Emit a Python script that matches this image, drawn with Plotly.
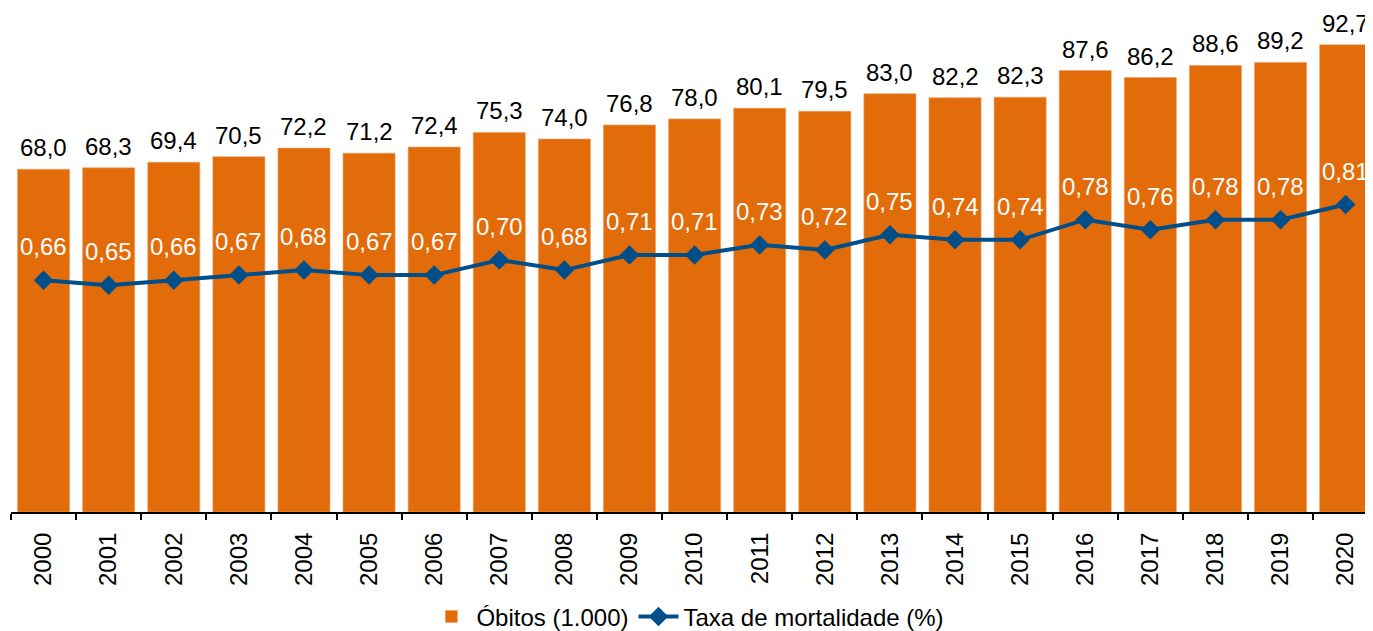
import plotly.graph_objects as go

years = [str(y) for y in range(2000, 2021)]
obitos = [68.0, 68.3, 69.4, 70.5, 72.2, 71.2, 72.4, 75.3, 74.0, 76.8, 78.0,
          80.1, 79.5, 83.0, 82.2, 82.3, 87.6, 86.2, 88.6, 89.2, 92.7]
taxa = [0.66, 0.65, 0.66, 0.67, 0.68, 0.67, 0.67, 0.70, 0.68, 0.71, 0.71,
        0.73, 0.72, 0.75, 0.74, 0.74, 0.78, 0.76, 0.78, 0.78, 0.81]

ORANGE = "#E36C0A"
BLUE = "#004F8A"
FONT = "Arial, 'Liberation Sans', sans-serif"
FS = 24

def br(v, d):
    return f"{v:.{d}f}".replace(".", ",")

fig = go.Figure()
fig.add_trace(go.Bar(
    x=years, y=obitos, name="Óbitos (1.000)",
    marker=dict(color=ORANGE, line=dict(color="#F0A060", width=0.6)),
    width=0.8,
))
fig.add_trace(go.Scatter(
    x=years, y=taxa, name="Taxa de mortalidade (%)", yaxis="y2",
    mode="lines+markers",
    line=dict(color=BLUE, width=4),
    marker=dict(symbol="diamond", size=15, color=BLUE),
    cliponaxis=False,
))

annotations = []
for i, v in enumerate(obitos):
    annotations.append(dict(x=i, y=v, xref="x", yref="y", text=br(v, 1),
                            showarrow=False, yanchor="bottom", yshift=6,
                            font=dict(size=FS, color="black", family=FONT)))
for i, v in enumerate(taxa):
    annotations.append(dict(x=i, y=v, xref="x", yref="y2", text=br(v, 2),
                            showarrow=False, yanchor="bottom", yshift=18,
                            font=dict(size=FS, color="white", family=FONT)))

# page has an 8px body margin; figure sized so the whole thing fits the window
fig.update_layout(
    width=1365, height=623,
    margin=dict(l=3, r=0, t=0, b=119, autoexpand=False),
    paper_bgcolor="white", plot_bgcolor="white",
    font=dict(family=FONT, size=FS, color="black"),
    showlegend=True,
    legend=dict(orientation="h", x=0.497, xanchor="center", y=-0.208, yanchor="middle",
                font=dict(size=FS, color="black", family=FONT), traceorder="normal",
                itemwidth=40),
    xaxis=dict(type="category", range=[-0.5, 20.42], showline=True, linecolor="black",
               linewidth=2, ticks="outside", tickson="boundaries", ticklen=6,
               tickwidth=2, tickcolor="black", tickangle=-90, showgrid=False,
               automargin=False, ticklabelstandoff=9,
               tickfont=dict(size=FS, color="black", family=FONT)),
    yaxis=dict(range=[0, 100], visible=False, showgrid=False, zeroline=False,
               automargin=False),
    yaxis2=dict(range=[0.2, 1.2], overlaying="y", side="right", visible=False,
                showgrid=False, zeroline=False, automargin=False),
    annotations=annotations,
)

fig.write_html("out.html")
